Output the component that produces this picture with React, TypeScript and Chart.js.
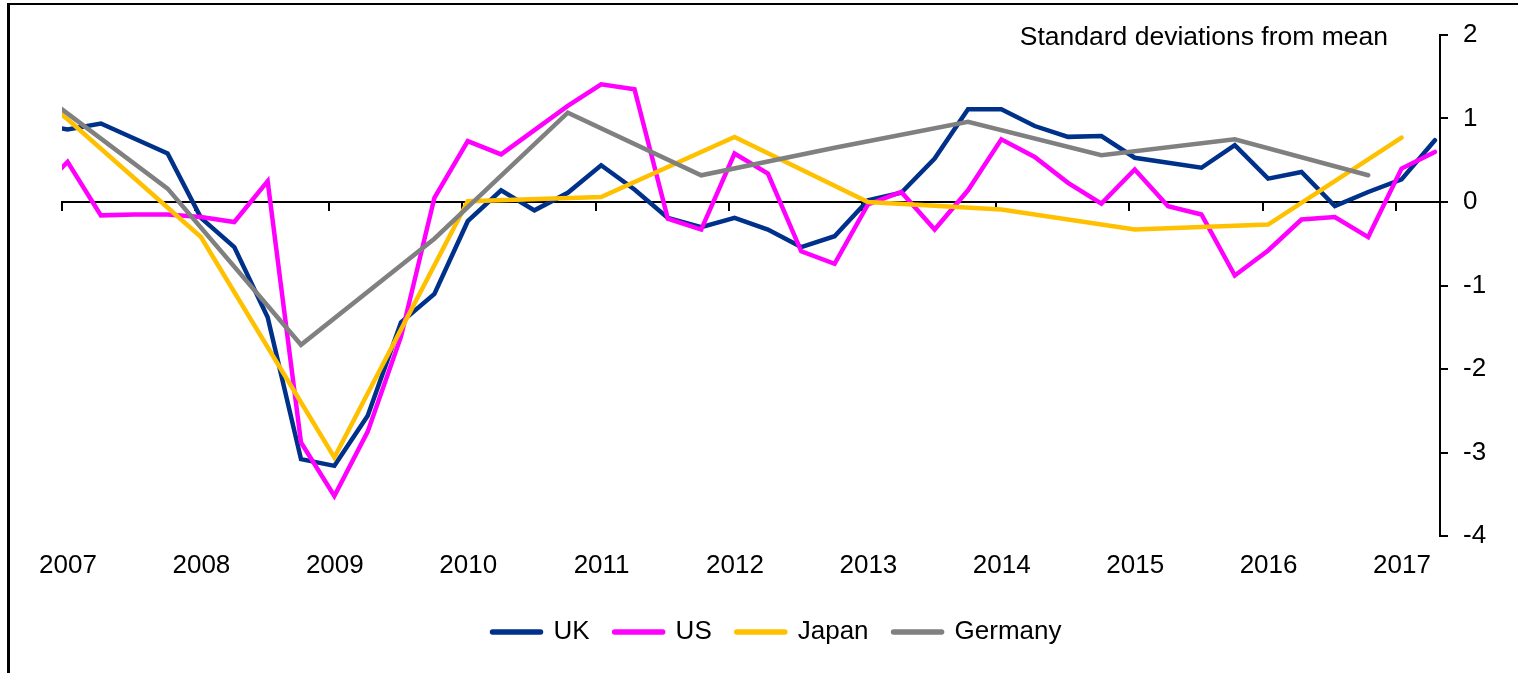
import React, { useEffect, useRef } from 'react';
import { Chart, registerables } from 'chart.js';

Chart.register(...registerables);

const FONT = "'Liberation Sans', Arial, Helvetica, sans-serif";

// ---- Data (quarterly series start in 2006 Q4; the first point is clipped at the axis) ----
const SERIES_NAMES = ['UK', 'US', 'Japan', 'Germany'];

const UK_START_YEAR = 2006;
const UK_START_QUARTER = 4;
const UK_VALUES = [
  0.93,
  0.87, 0.94, 0.76, 0.58,
  -0.19, -0.54, -1.38, -3.08,
  -3.16, -2.56, -1.44, -1.1,
  -0.23, 0.14, -0.1, 0.11,
  0.44, 0.15, -0.19, -0.3,
  -0.19, -0.33, -0.54, -0.41,
  0.02, 0.11, 0.52, 1.11,
  1.11, 0.91, 0.78, 0.79,
  0.53, 0.47, 0.41, 0.68,
  0.28, 0.36, -0.05, 0.12,
  0.27, 0.74,
];

const US_START_YEAR = 2006;
const US_START_QUARTER = 4;
const US_VALUES = [
  0.07,
  0.48, -0.16, -0.15, -0.15,
  -0.18, -0.24, 0.25, -2.88,
  -3.52, -2.75, -1.61, 0.05,
  0.73, 0.57, 0.86, 1.15,
  1.41, 1.35, -0.2, -0.33,
  0.58, 0.34, -0.59, -0.74,
  -0.03, 0.12, -0.33, 0.14,
  0.75, 0.54, 0.23, -0.02,
  0.39, -0.05, -0.15, -0.88,
  -0.58, -0.21, -0.18, -0.42,
  0.4, 0.6,
];

// Annual readings: Japan dated in Q1, Germany dated in Q4
const JAPAN_YEARS = [2006, 2007, 2008, 2009, 2010, 2011, 2012, 2013, 2014, 2015, 2016, 2017];
const JAPAN_QUARTER = 1;
const JAPAN_VALUES = [2.3, 0.99, -0.42, -3.06, 0.01, 0.06, 0.78, 0.0, -0.09, -0.33, -0.27, 0.77];

const GERMANY_YEARS = [2006, 2007, 2008, 2009, 2010, 2011, 2012, 2013, 2014, 2015, 2016];
const GERMANY_QUARTER = 4;
const GERMANY_VALUES = [1.36, 0.16, -1.71, -0.44, 1.07, 0.32, 0.65, 0.96, 0.56, 0.75, 0.32];

const YEAR_TICKS = [2007, 2008, 2009, 2010, 2011, 2012, 2013, 2014, 2015, 2016, 2017];
const Y_TICKS = [2, 1, 0, -1, -2, -3, -4];
const X_MIN = 2007;
const X_MAX = 2017.33;
const Y_MIN = -4;
const Y_MAX = 2;
const AXIS_NOTE = 'Standard deviations from mean';

const COLORS = ['#00318A', '#FF00FF', '#FFC000', '#808080'];

// observations are dated in the middle of the first month of each quarter
const quarterX = (year: number, quarter: number) => year + ((quarter - 1) * 3 + 0.5) / 12;

function quarterly(startYear: number, startQuarter: number, values: number[]) {
  return values.map((v, i) => {
    const idx = startQuarter - 1 + i;
    return { x: quarterX(startYear + Math.floor(idx / 4), (idx % 4) + 1), y: v };
  });
}

function annual(years: number[], quarter: number, values: number[]) {
  return years.map((yr, i) => ({ x: quarterX(yr, quarter), y: values[i] }));
}

const notePlugin = {
  id: 'axisNote',
  afterDraw(chart: any) {
    const { ctx, chartArea } = chart;
    ctx.save();
    ctx.font = `26.5px ${FONT}`;
    ctx.fillStyle = '#000';
    ctx.textAlign = 'right';
    ctx.textBaseline = 'alphabetic';
    ctx.fillText(AXIS_NOTE, chartArea.right - 52, chartArea.top + 10);
    ctx.restore();
  },
};

export default function App() {
  const canvasRef = useRef<HTMLCanvasElement | null>(null);

  useEffect(() => {
    const canvas = canvasRef.current;
    if (!canvas) return;

    const series = [
      quarterly(UK_START_YEAR, UK_START_QUARTER, UK_VALUES),
      quarterly(US_START_YEAR, US_START_QUARTER, US_VALUES),
      annual(JAPAN_YEARS, JAPAN_QUARTER, JAPAN_VALUES),
      annual(GERMANY_YEARS, GERMANY_QUARTER, GERMANY_VALUES),
    ];

    const yearTicks = (s: any) => {
      s.ticks = YEAR_TICKS.map((v) => ({ value: v }));
    };

    const chart = new Chart(canvas, {
      type: 'line',
      data: {
        datasets: series.map((data, i) => ({
          label: SERIES_NAMES[i],
          data,
          borderColor: COLORS[i],
          backgroundColor: COLORS[i],
          borderWidth: 4.5,
          borderCapStyle: 'round',
          borderJoinStyle: 'miter',
          pointRadius: 0,
          pointHoverRadius: 0,
          tension: 0,
          fill: false,
          clip: 0,
          order: 4 - i,
          xAxisID: 'x',
          yAxisID: 'y',
        })),
      },
      options: {
        animation: false,
        responsive: true,
        maintainAspectRatio: false,
        layout: { padding: { left: 36, right: 0, top: 35, bottom: 18 } },
        plugins: {
          tooltip: { enabled: false },
          title: { display: false },
          legend: {
            position: 'bottom',
            labels: {
              usePointStyle: true,
              pointStyle: 'line',
              pointStyleWidth: 48,
              padding: 25,
              color: '#000',
              font: { family: FONT, size: 26 },
              generateLabels: (c: any) =>
                Chart.defaults.plugins.legend.labels
                  .generateLabels(c)
                  .map((it: any) => ({ ...it, lineWidth: 5.5, lineCap: 'round' }))
                  .sort((a: any, b: any) => a.datasetIndex - b.datasetIndex),
            },
          },
        },
        scales: {
          x: {
            type: 'linear',
            position: { y: 0 } as any,
            min: X_MIN,
            max: X_MAX,
            bounds: 'data',
            afterBuildTicks: yearTicks,
            ticks: { display: false },
            grid: {
              display: true,
              drawOnChartArea: false,
              drawTicks: true,
              tickLength: 8,
              tickWidth: 2,
              tickColor: '#000',
              color: '#000',
              lineWidth: 2,
            },
            border: { display: true, color: '#000', width: 2 },
          },
          x2: {
            type: 'linear',
            axis: 'x',
            position: 'bottom',
            min: X_MIN,
            max: X_MAX,
            bounds: 'data',
            afterBuildTicks: yearTicks,
            afterFit: (s: any) => {
              s.height = 58;
            },
            ticks: {
              callback: (v: any) => String(v),
              color: '#000',
              font: { family: FONT, size: 26 },
              padding: 14,
              labelOffset: 6,
              maxRotation: 0,
              autoSkip: false,
            },
            grid: { display: false, drawTicks: false },
            border: { display: false },
          },
          y: {
            type: 'linear',
            position: 'right',
            min: Y_MIN,
            max: Y_MAX,
            bounds: 'data',
            afterBuildTicks: (s: any) => {
              s.ticks = Y_TICKS.map((v) => ({ value: v }));
            },
            afterFit: (s: any) => {
              s.width = 78;
            },
            ticks: {
              callback: (v: any) => String(v),
              color: '#000',
              font: { family: FONT, size: 26 },
              padding: 15,
            },
            grid: {
              display: true,
              drawOnChartArea: false,
              drawTicks: true,
              tickLength: 8,
              tickWidth: 2,
              tickColor: '#000',
              color: '#000',
              lineWidth: 2,
            },
            border: { display: true, color: '#000', width: 2 },
          },
          yPad: {
            type: 'linear',
            axis: 'y',
            position: 'left',
            display: true,
            afterFit: (s: any) => {
              s.width = 26;
            },
            ticks: { display: false },
            grid: { display: false, drawTicks: false },
            border: { display: false },
          },
        },
      } as any,
      plugins: [notePlugin],
    });

    return () => chart.destroy();
  }, []);

  return (
    <>
      <div
        style={{
          position: 'fixed',
          left: 0,
          top: 0,
          width: 1518,
          height: 673,
          background: '#fff',
        }}
      >
        <canvas ref={canvasRef} />
      </div>
      <div
        style={{
          position: 'fixed',
          left: 7,
          top: 3,
          width: 1530,
          height: 690,
          borderTop: '2px solid #000',
          borderLeft: '3px solid #000',
          pointerEvents: 'none',
        }}
      />
    </>
  );
}
